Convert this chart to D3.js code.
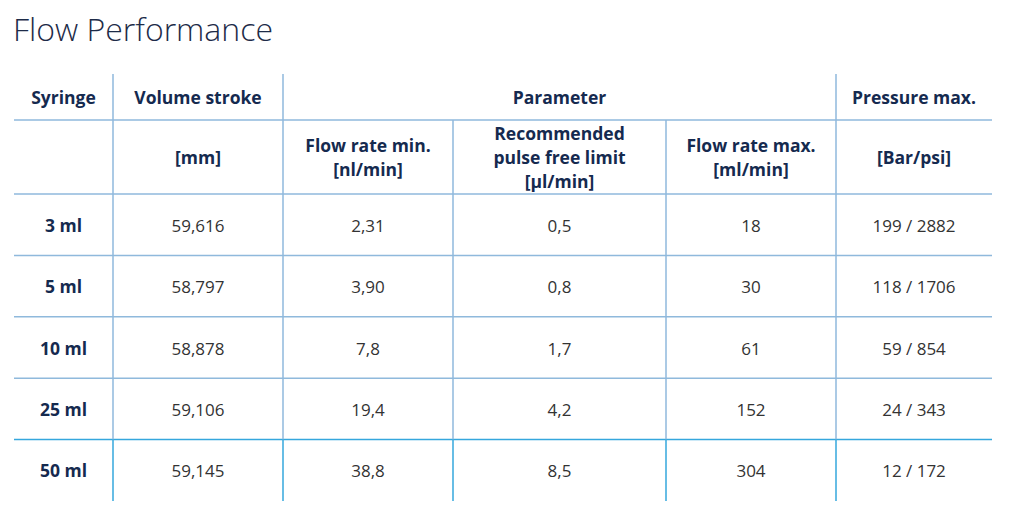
<!DOCTYPE html>
<html>
<head>
    <title>Flow Performance</title>
    <script src="https://d3js.org/d3.v7.min.js"></script>
    <style>
        body { margin: 0; background: #fff; }
    </style>
</head>
<body>
    <div id="chart"></div>

    <script>
        // Table contents
        const syringes = ["3 ml", "5 ml", "10 ml", "25 ml", "50 ml"];
        const volumeStroke = ["59,616", "58,797", "58,878", "59,106", "59,145"];
        const flowRateMin = ["2,31", "3,90", "7,8", "19,4", "38,8"];
        const pulseFreeLimit = ["0,5", "0,8", "1,7", "4,2", "8,5"];
        const flowRateMax = ["18", "30", "61", "152", "304"];
        const pressureMax = ["199 / 2882", "118 / 1706", "59 / 854", "24 / 343", "12 / 172"];

        const topHeaders = ["Syringe", "Volume stroke", "Parameter", "Pressure max."];
        const subHeaders = [[], ["[mm]"], ["Flow rate min.", "[nl/min]"],
            ["Recommended", "pulse free limit", "[µl/min]"],
            ["Flow rate max.", "[ml/min]"], ["[Bar/psi]"]];

        const columns = [syringes, volumeStroke, flowRateMin, pulseFreeLimit, flowRateMax, pressureMax];

        const width = 1013, height = 514;
        const navy = "#152a4f", text = "#333333";
        const lineColor = "#8fb9dc", lastLine = "#35a7dd";

        const svg = d3.select("#chart")
            .append("svg")
            .attr("width", width)
            .attr("height", height);

        // Title
        svg.append("text")
            .attr("x", 13)
            .attr("y", 41)
            .attr("font-family", "Open Sans")
            .attr("font-weight", 300)
            .attr("font-size", 32)
            .attr("fill", "#1d2b48")
            .text("Flow Performance");

        // Column edges: left, separators, right
        const colEdges = [14, 113, 283, 453, 666, 836, 992];
        const colX = i => (colEdges[i] + colEdges[i + 1]) / 2;

        // Rows
        const y = d3.scaleBand()
            .domain(syringes)
            .range([194, 501]);

        const top1 = 74, top2 = 120, bodyTop = 194;

        // Top header: spans
        const topSpans = [[0, 1], [1, 2], [2, 5], [5, 6]];
        svg.append("g").selectAll("text")
            .data(topHeaders)
            .join("text")
            .attr("x", (d, i) => (colEdges[topSpans[i][0]] + colEdges[topSpans[i][1]]) / 2)
            .attr("y", 104)
            .attr("text-anchor", "middle")
            .attr("font-family", "Open Sans")
            .attr("font-weight", 700)
            .attr("font-size", 17.5)
            .attr("fill", navy)
            .text(d => d);

        // Sub header lines
        const sub = svg.append("g");
        subHeaders.forEach((lines, i) => {
            const n = lines.length;
            lines.forEach((t, j) => {
                sub.append("text")
                    .attr("x", colX(i))
                    .attr("y", 164 + (j - (n - 1) / 2) * 24)
                    .attr("text-anchor", "middle")
                    .attr("font-family", "Open Sans")
                    .attr("font-weight", 700)
                    .attr("font-size", 17.5)
                    .attr("fill", navy)
                    .text(t);
            });
        });

        // Body cells
        columns.forEach((col, i) => {
            svg.append("g").selectAll("text")
                .data(col)
                .join("text")
                .attr("x", colX(i))
                .attr("y", (d, r) => y(syringes[r]) + y.bandwidth() / 2 + 7)
                .attr("text-anchor", "middle")
                .attr("font-family", "Open Sans")
                .attr("font-weight", i === 0 ? 700 : 400)
                .attr("font-size", i === 0 ? 17.5 : 17)
                .attr("fill", i === 0 ? navy : text)
                .text(d => d);
        });

        // Grid lines
        const grid = svg.append("g").attr("stroke-width", 1.5);
        const hLines = [top2, bodyTop].concat(syringes.slice(1).map(s => y(s)));
        grid.selectAll("line.h")
            .data(hLines)
            .join("line")
            .attr("class", "h")
            .attr("x1", colEdges[0]).attr("x2", colEdges[6])
            .attr("y1", d => d).attr("y2", d => d)
            .attr("stroke", (d, i) => i === hLines.length - 1 ? lastLine : lineColor);

        // vertical separators in top header
        grid.selectAll("line.vt")
            .data([1, 2, 5])
            .join("line")
            .attr("class", "vt")
            .attr("x1", d => colEdges[d]).attr("x2", d => colEdges[d])
            .attr("y1", top1).attr("y2", top2)
            .attr("stroke", lineColor);

        // vertical separators below, split per row so the last row can be brighter
        const vRows = [[top2, bodyTop]].concat(syringes.map(s => [y(s), y(s) + y.bandwidth()]));
        [1, 2, 3, 4, 5].forEach(c => {
            grid.append("g").selectAll("line")
                .data(vRows)
                .join("line")
                .attr("x1", colEdges[c]).attr("x2", colEdges[c])
                .attr("y1", d => d[0]).attr("y2", d => d[1])
                .attr("stroke", (d, i) => i === vRows.length - 1 ? lastLine : lineColor);
        });
    </script>
</body>
</html>
